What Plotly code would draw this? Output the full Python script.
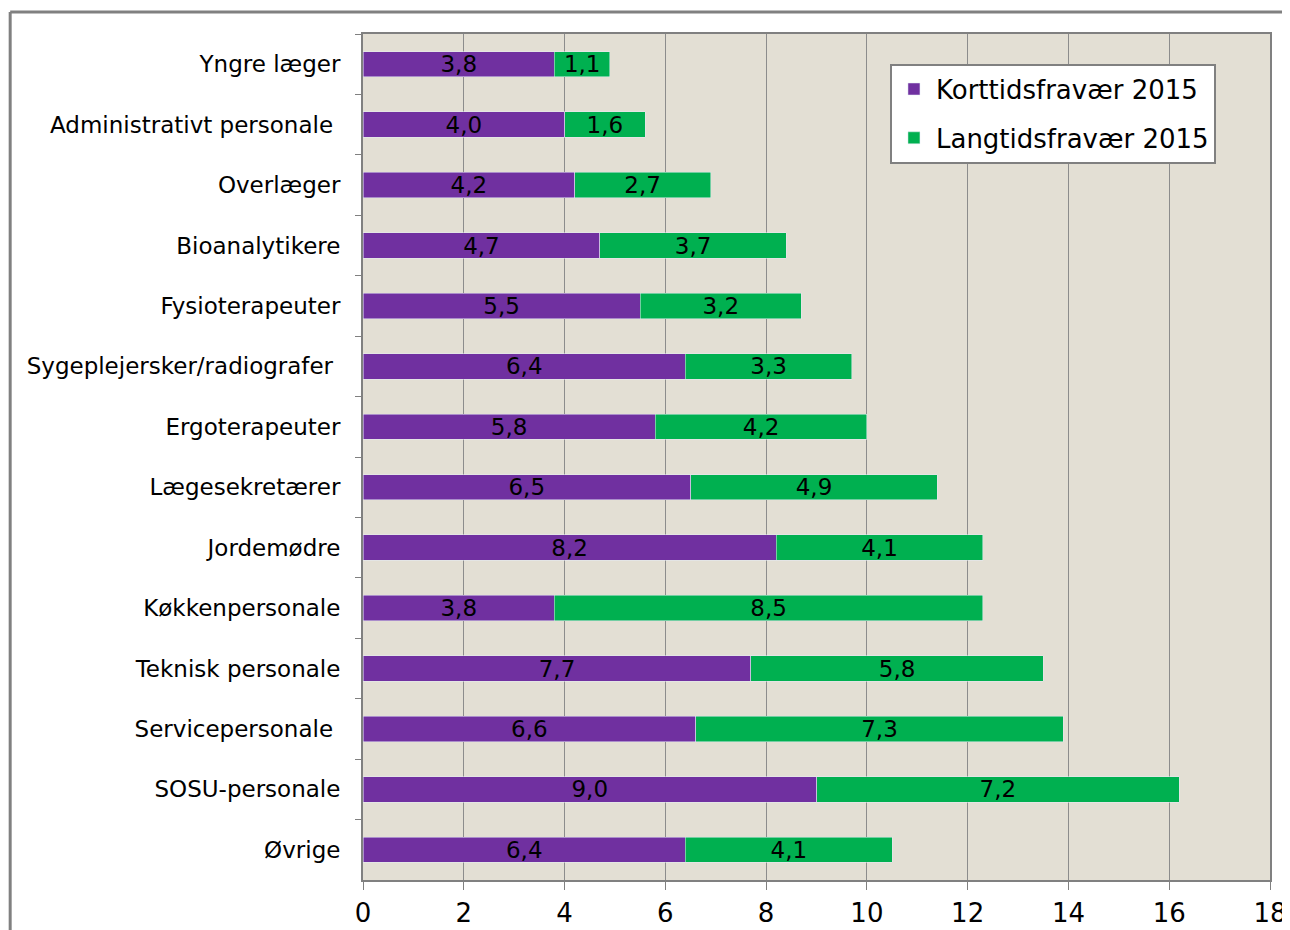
import plotly.graph_objects as go

categories = [
    "Yngre læger", "Administrativt personale\u00a0", "Overlæger", "Bioanalytikere",
    "Fysioterapeuter", "Sygeplejersker/radiografer\u00a0", "Ergoterapeuter",
    "Lægesekretærer", "Jordemødre", "Køkkenpersonale", "Teknisk personale",
    "Servicepersonale\u00a0", "SOSU-personale", "Øvrige",
]
korttid = [3.8, 4.0, 4.2, 4.7, 5.5, 6.4, 5.8, 6.5, 8.2, 3.8, 7.7, 6.6, 9.0, 6.4]
langtid = [1.1, 1.6, 2.7, 3.7, 3.2, 3.3, 4.2, 4.9, 4.1, 8.5, 5.8, 7.3, 7.2, 4.1]
x_ticks = list(range(0, 19, 2))

font = "DejaVu Sans, Verdana, sans-serif"

fig = go.Figure()
fig.add_trace(go.Bar(
    y=categories, x=korttid, orientation="h", name="Korttidsfravær 2015",
    marker_color="#7030A0", legendgroup="a",
    texttemplate="%{x:.1f}", textposition="inside", insidetextanchor="middle",
    constraintext="none", textfont=dict(family=font, size=23, color="black"),
))
fig.add_trace(go.Bar(
    y=categories, x=langtid, orientation="h", name="Langtidsfravær 2015",
    marker_color="#00B050", legendgroup="b",
    texttemplate="%{x:.1f}", textposition="inside", insidetextanchor="middle",
    constraintext="none", textfont=dict(family=font, size=23, color="black"),
))

# outer frame of the chart object (left and top edges visible)
fig.add_shape(type="line", xref="paper", yref="paper",
              x0=-0.389, x1=1.04, y0=1.026, y1=1.026,
              line=dict(color="#808080", width=3))
fig.add_shape(type="line", xref="paper", yref="paper",
              x0=-0.389, x1=-0.389, y0=1.026, y1=-0.08,
              line=dict(color="#808080", width=3))

fig.update_layout(
    barmode="stack",
    bargap=0.58,
    separators=",.",
    width=1280, height=922,
    margin=dict(l=355, r=18, t=26, b=50),
    paper_bgcolor="white",
    plot_bgcolor="#E3DFD4",
    font=dict(family=font, color="black"),
    legend=dict(
        x=0.581, y=0.965, xanchor="left", yanchor="top",
        bgcolor="white", bordercolor="#808080", borderwidth=2,
        font=dict(family=font, size=26, color="black"),
        tracegroupgap=12, traceorder="grouped", itemwidth=34,
    ),
    xaxis=dict(
        range=[0, 18], tickvals=x_ticks, showgrid=True,
        gridcolor="#8C8C8C", gridwidth=1, automargin=False,
        showline=True, linecolor="#808080", linewidth=2, mirror=True,
        ticks="outside", ticklen=8, tickcolor="#808080",
        tickfont=dict(family=font, size=26, color="black"),
        ticklabelstandoff=1, zeroline=False,
    ),
    yaxis=dict(
        autorange="reversed", showgrid=False, automargin=False,
        showline=True, linecolor="#808080", linewidth=2, mirror=True,
        ticks="outside", ticklen=6, tickcolor="#808080", tickson="boundaries",
        tickfont=dict(family=font, size=23, color="black"),
        ticklabelstandoff=16,
    ),
)

fig.write_html("out.html")
